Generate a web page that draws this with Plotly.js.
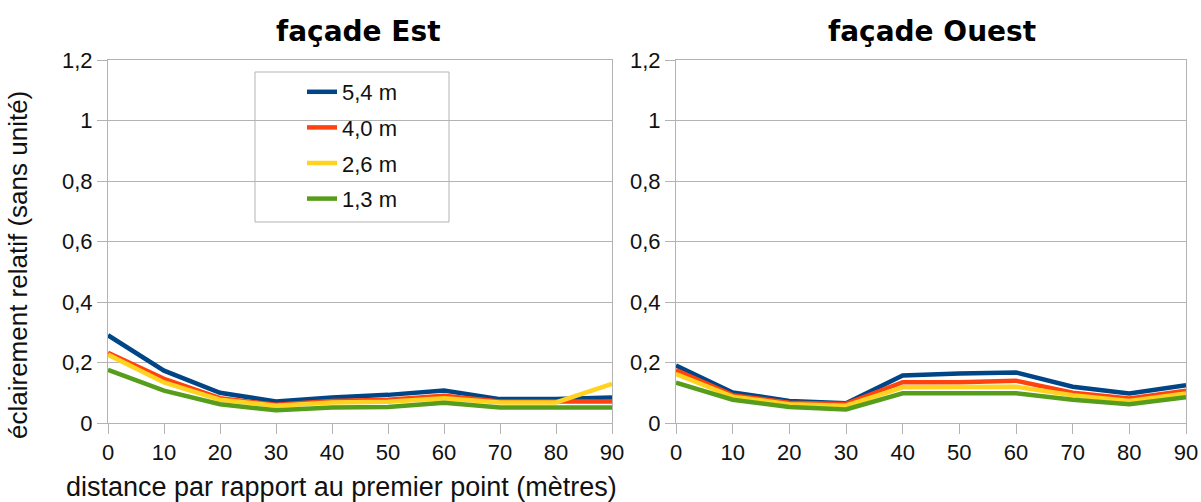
<!DOCTYPE html>
<html>
<head>
<meta charset="utf-8">
<script src="https://cdn.plot.ly/plotly-3.0.1.min.js"></script>
<style>
  html, body { margin: 0; padding: 0; background: #fff; }
  #chart { width: 1201px; height: 502px; }
</style>
</head>
<body>
<div id="chart"></div>
<script>
// distance (m)
const distances = [0, 10, 20, 30, 40, 50, 60, 70, 80, 90];
const seriesNames = ["5,4 m", "4,0 m", "2,6 m", "1,3 m"];
const seriesColors = ["#004586", "#ff420e", "#ffd320", "#579d1c"];

// façade Est
const est54 = [0.290, 0.173, 0.100, 0.071, 0.084, 0.093, 0.107, 0.079, 0.079, 0.084];
const est40 = [0.232, 0.146, 0.082, 0.060, 0.073, 0.077, 0.090, 0.071, 0.071, 0.071];
const est26 = [0.226, 0.134, 0.077, 0.057, 0.068, 0.070, 0.082, 0.068, 0.068, 0.129];
const est13 = [0.176, 0.107, 0.062, 0.042, 0.051, 0.053, 0.067, 0.051, 0.051, 0.051];

// façade Ouest
const ouest54 = [0.190, 0.101, 0.073, 0.065, 0.157, 0.164, 0.167, 0.120, 0.098, 0.125];
const ouest40 = [0.175, 0.092, 0.067, 0.063, 0.135, 0.135, 0.140, 0.100, 0.081, 0.107];
const ouest26 = [0.162, 0.087, 0.062, 0.057, 0.118, 0.118, 0.120, 0.092, 0.073, 0.098];
const ouest13 = [0.133, 0.077, 0.053, 0.045, 0.098, 0.098, 0.098, 0.077, 0.062, 0.085];

const panelTitles = ["façade Est", "façade Ouest"];
const xTitle = "distance par rapport au premier point (mètres)";
const yTitle = "éclairement relatif (sans unité)";

const estSeries = [est54, est40, est26, est13];
const ouestSeries = [ouest54, ouest40, ouest26, ouest13];

const traces = [];
estSeries.forEach((ys, i) => {
  traces.push({
    x: distances, y: ys, type: "scatter", mode: "lines",
    name: seriesNames[i], legendgroup: "g" + i,
    line: { color: seriesColors[i], width: 4.5 },
    xaxis: "x", yaxis: "y", hoverinfo: "skip"
  });
});
ouestSeries.forEach((ys, i) => {
  traces.push({
    x: distances, y: ys, type: "scatter", mode: "lines",
    name: seriesNames[i], legendgroup: "g" + i, showlegend: false,
    line: { color: seriesColors[i], width: 4.5 },
    xaxis: "x2", yaxis: "y2", hoverinfo: "skip"
  });
});

const W = 1201, H = 502;
const grid = "#b3b3b3";
const tickFont = { family: "Liberation Sans, Arial, sans-serif", size: 22, color: "#111" };

function xAxis(domain) {
  return {
    domain: domain, range: [0, 90], dtick: 10, tick0: 0,
    showgrid: false, zeroline: false,
    showline: true, mirror: true, linecolor: grid, linewidth: 1,
    ticks: "outside", ticklen: 10, tickcolor: grid, tickwidth: 1,
    tickfont: tickFont, fixedrange: true
  };
}
function yAxis(anchor) {
  return {
    domain: [1 - 423 / H, 1 - 60 / H], range: [0, 1.2], dtick: 0.2, tick0: 0,
    anchor: anchor,
    showgrid: true, gridcolor: grid, gridwidth: 1, zeroline: false,
    showline: true, mirror: true, linecolor: grid, linewidth: 1,
    ticks: "outside", ticklen: 10, tickcolor: grid, tickwidth: 1,
    tickfont: tickFont, fixedrange: true
  };
}

const layout = {
  width: W, height: H,
  margin: { l: 0, r: 0, t: 0, b: 0 },
  paper_bgcolor: "#fff", plot_bgcolor: "#fff",
  separators: ",.",
  font: { family: "Liberation Sans, Arial, sans-serif", color: "#000" },
  xaxis: xAxis([108 / W, 612 / W]),
  yaxis: yAxis("x"),
  xaxis2: Object.assign(xAxis([676 / W, 1186 / W]), { anchor: "y2" }),
  yaxis2: yAxis("x2"),
  showlegend: true,
  legend: {
    x: 302 / W, y: 1 - 71 / H, xanchor: "left", yanchor: "top",
    bgcolor: "rgba(0,0,0,0)", borderwidth: 0,
    font: { family: "Liberation Sans, Arial, sans-serif", size: 22, color: "#111" },
    traceorder: "grouped", tracegroupgap: 4
  },
  shapes: [{
    type: "rect", xref: "paper", yref: "paper",
    x0: 255 / W, x1: 449 / W, y0: 1 - 222 / H, y1: 1 - 72 / H,
    line: { color: grid, width: 1 }, fillcolor: "rgba(0,0,0,0)", layer: "below"
  }],
  annotations: [
    { text: panelTitles[0], xref: "paper", yref: "paper", x: 358 / W, y: 1 - 32 / H,
      xanchor: "center", yanchor: "middle", showarrow: false,
      font: { family: "DejaVu Sans, sans-serif", size: 28, weight: "bold", color: "#000" } },
    { text: panelTitles[1], xref: "paper", yref: "paper", x: 932 / W, y: 1 - 32 / H,
      xanchor: "center", yanchor: "middle", showarrow: false,
      font: { family: "DejaVu Sans, sans-serif", size: 28, weight: "bold", color: "#000" } },
    { text: xTitle, xref: "paper", yref: "paper", x: 341 / W, y: 1 - 487 / H,
      xanchor: "center", yanchor: "middle", showarrow: false,
      font: { family: "Liberation Sans, Arial, sans-serif", size: 27, color: "#111" } },
    { text: yTitle, xref: "paper", yref: "paper", x: 18 / W, y: 1 - 265 / H,
      xanchor: "center", yanchor: "middle", showarrow: false, textangle: -90,
      font: { family: "Liberation Sans, Arial, sans-serif", size: 26, color: "#111" } }
  ]
};

Plotly.newPlot("chart", traces, layout, { displayModeBar: false, staticPlot: true });
</script>
</body>
</html>
